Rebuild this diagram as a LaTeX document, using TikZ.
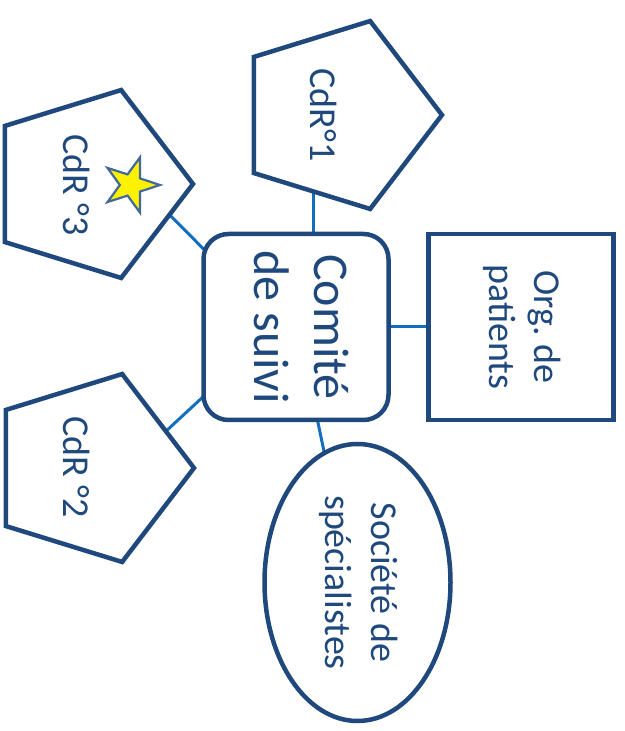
\documentclass[tikz,border=0pt]{standalone}
\usepackage{fontspec}
\setmainfont{Carlito}
\usepackage{graphicx}
\usepackage{tikz}
\usetikzlibrary{shapes.geometric,backgrounds}
\definecolor{cdrblue}{RGB}{31,73,125}
\definecolor{linkblue}{RGB}{18,110,190}
\definecolor{starblue}{RGB}{65,105,155}

\begin{document}
\begin{tikzpicture}[x=1pt,y=1pt,
  every node/.style={text=cdrblue},
  pent/.style={draw=cdrblue, line width=4.5pt, fill=white, regular polygon, regular polygon sides=5,
    minimum size=208pt, inner sep=0pt, yscale=0.95, rotate=-90},
  boite/.style={draw=cdrblue, line width=4.5pt, fill=white, rectangle, inner sep=0pt,
    minimum width=185pt, minimum height=186pt, font=\fontsize{38}{45.6}\selectfont},
  ovale/.style={draw=cdrblue, line width=4.5pt, fill=white, ellipse, inner sep=0pt,
    minimum width=186pt, minimum height=277pt, font=\fontsize{38}{45.6}\selectfont},
  txt/.style={font=\fontsize{38}{45.6}\selectfont, rotate=-90, inner sep=0pt},
  lien/.style={draw=linkblue, line width=3pt}]
\useasboundingbox (0,0) rectangle (624,731);

\node (p1) at (338,616) [pent] {};
\node (p3) at (89,547) [pent] {};
\node (p2) at (90,263) [pent] {};

\node (comite) at (296,404) [boite, rounded corners=25pt, font=\fontsize{50}{60}\selectfont]
  {\rotatebox{-90}{\begin{tabular}{@{}c@{}}Comité\\de suivi\end{tabular}}};
\node (org) at (521,404) [boite]
  {\rotatebox{-90}{\begin{tabular}{@{}c@{}}Org.\ de\\patients\end{tabular}}};
\node (soc) at (357.5,148.5) [ovale]
  {\rotatebox{-90}{\begin{tabular}{@{}c@{}}Société de\\spécialistes\end{tabular}}};

\node (t1) at (324,616) [txt] {CdR°1};
\node (t3) at (77,546) [txt] {CdR °3};
\node (t2) at (77,264) [txt] {CdR °2};
\node (etoile) at (131,546) [star, star points=5, star point ratio=2.6, minimum size=58pt,
  inner sep=0pt, fill=yellow, draw=starblue, line width=2.2pt, rotate=-90] {};

\begin{scope}[on background layer]
\draw[lien] ([xshift=17pt]comite.center) -- ([xshift=17pt]comite.center |- p1.center);
\draw[lien] ([shift={(10pt,-25pt)}]comite.north west) -- ([shift={(59pt,-9pt)}]p3.center);
\draw[lien] ([shift={(10pt,33pt)}]comite.south west) -- ([shift={(53.5pt,16pt)}]p2.center);
\draw[lien] (comite.center) -- (org.center);
\draw[lien] ([xshift=2pt]comite.center) -- ([shift={(-27pt,100pt)}]soc.center);
\end{scope}
\end{tikzpicture}
\end{document}
